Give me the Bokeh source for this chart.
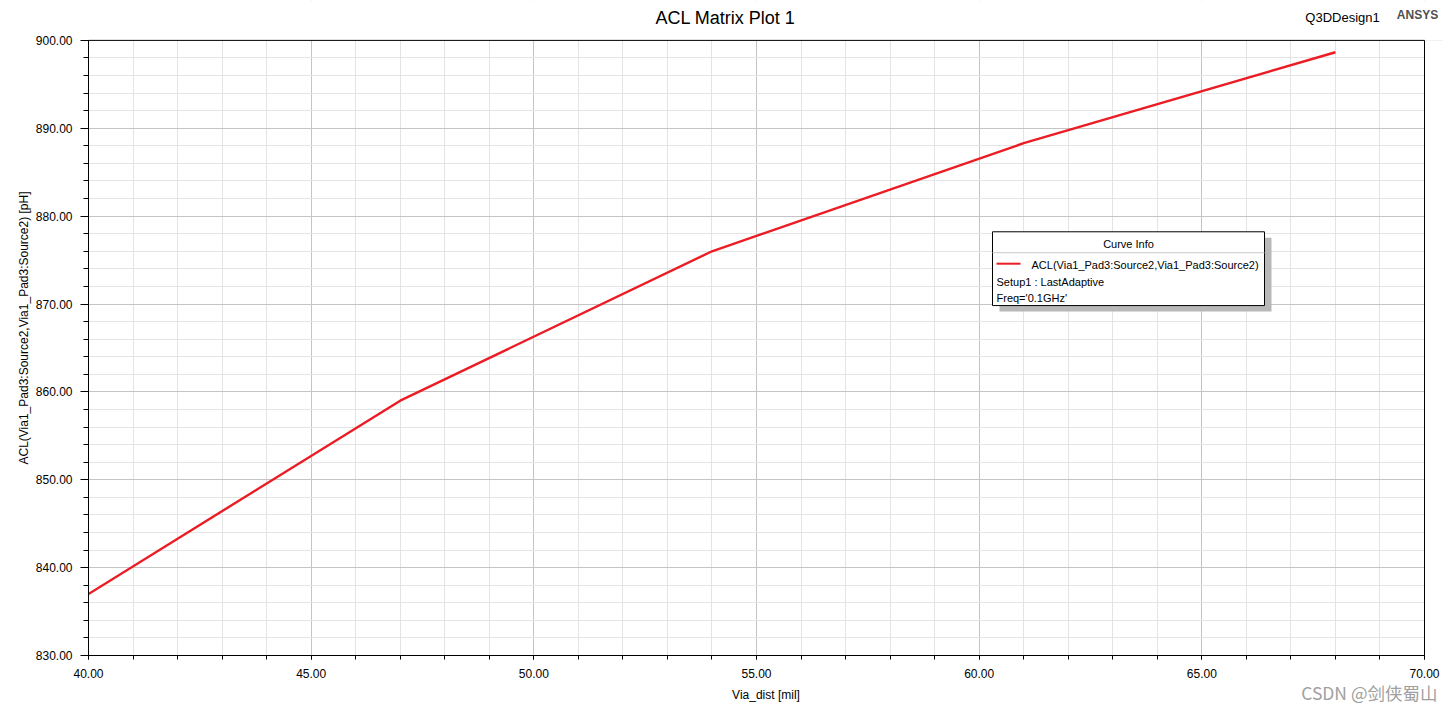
from bokeh.plotting import figure
from bokeh.models import (Range1d, SingleIntervalTicker, NumeralTickFormatter, Label, Title,
                          ColumnDataSource)
from bokeh.embed import file_html
from bokeh.resources import INLINE

# ---- data ----
via_dist = [40, 47, 54, 61, 68]
acl_ph = [837.0, 859.0, 876.0, 888.3, 898.65]

title_text = "ACL Matrix Plot 1"
x_label = "Via_dist [mil]"
y_label = "ACL(Via1_Pad3:Source2,Via1_Pad3:Source2) [pH]"
series_name = "ACL(Via1_Pad3:Source2,Via1_Pad3:Source2)"
legend_lines = ["Setup1 : LastAdaptive", "Freq='0.1GHz'"]
design_name = "Q3DDesign1"
brand = "ANSYS"
watermark = "CSDN @剑侠蜀山"

FONT = "Liberation Sans"
RED = "#ec1c24"

W, H = 1443, 704
X0, X1, Y0, Y1 = 40, 70, 830, 900
# plot box in canvas pixels
BX0, BX1, BY0, BY1 = 88, 1424, 40, 657

# frame extends to the top and right canvas edges so the header texts are drawable
x_end = X0 + (W - BX0) / (BX1 - BX0) * (X1 - X0)
y_end = Y1 + BY0 / (BY1 - BY0) * (Y1 - Y0)

def dx(px):
    return X0 + (px - BX0) / (BX1 - BX0) * (X1 - X0)
def dy(py):
    return Y1 - (py - BY0) / (BY1 - BY0) * (Y1 - Y0)

p = figure(width=W, height=H, output_backend="svg", toolbar_location=None,
           x_range=Range1d(X0, x_end), y_range=Range1d(Y0, y_end),
           min_border_left=BX0, min_border_right=0, min_border_top=0,
           min_border_bottom=H - BY1)
p.background_fill_color = "white"
p.border_fill_color = "white"
p.outline_line_color = None

p.xaxis.ticker = SingleIntervalTicker(interval=5, num_minor_ticks=5)
p.yaxis.ticker = SingleIntervalTicker(interval=10, num_minor_ticks=5)
p.xaxis.formatter = NumeralTickFormatter(format="0.00")
p.yaxis.formatter = NumeralTickFormatter(format="0.00")
p.xaxis.bounds = (X0, X1)
p.yaxis.bounds = (Y0, Y1)

for ax in (p.xaxis, p.yaxis):
    ax.axis_line_color = "black"
    ax.major_tick_line_color = "black"
    ax.minor_tick_line_color = "black"
    ax.major_tick_in = 0
    ax.minor_tick_in = 0
    ax.major_label_text_font = FONT
    ax.major_label_text_font_size = "12px"
    ax.major_label_text_color = "#000000"
    ax.axis_label_text_font = FONT
    ax.axis_label_text_font_size = "12px"
    ax.axis_label_text_font_style = "normal"
    ax.axis_label_text_color = "#000000"

p.xaxis.major_tick_out = 4
p.xaxis.minor_tick_out = 4
p.yaxis.major_tick_out = 8
p.yaxis.minor_tick_out = 5
p.xaxis.major_label_standoff = 9
p.yaxis.major_label_standoff = 8
p.xaxis.axis_label_standoff = 7
p.yaxis.axis_label_standoff = 2
p.xaxis.axis_label = x_label
p.yaxis.axis_label = y_label

for g in (p.xgrid, p.ygrid):
    g.grid_line_color = "#c4c4c4"
    g.grid_line_width = 1
    g.minor_grid_line_color = "#e4e4e4"
    g.minor_grid_line_width = 1

# white masks outside the plot box (above 900 and right of 70)
p.quad(left=[X0], right=[x_end], bottom=[Y1], top=[y_end], fill_color="white", line_color=None)
p.quad(left=[X1], right=[x_end], bottom=[Y0], top=[Y1], fill_color="white", line_color=None)
# plot box border
p.line(x=[X0, X1, X1, X0, X0], y=[Y0, Y0, Y1, Y1, Y0], line_color="black", line_width=1)

src = ColumnDataSource(dict(x=via_dist, y=acl_ph))
p.line("x", "y", source=src, line_color=RED, line_width=2.4)

# header texts
p.add_layout(Label(x=dx(725), y=dy(18), text=title_text, text_font=FONT, text_font_size="18px",
                   text_align="center", text_baseline="middle", text_color="#000000"))
p.add_layout(Label(x=dx(1342), y=dy(17), text=design_name, text_font=FONT, text_font_size="13px",
                   text_align="center", text_baseline="middle", text_color="#000000"))
p.add_layout(Label(x=dx(1417), y=dy(15), text=brand, text_font=FONT, text_font_size="12px",
                   text_font_style="bold", text_align="center", text_baseline="middle",
                   text_color="#505050"))

# watermark below the x axis
wm = Title(text=watermark, align="right", offset=6, vertical_align="top", standoff=-50,
           text_font="Noto Sans CJK SC", text_font_size="17.5px", text_font_style="normal",
           text_color="#a0a0a0")
p.add_layout(wm, "below")

# legend box ("Curve Info")
bx0, bx1, by0, by1 = 992, 1264, 232, 306
p.quad(left=[dx(bx0 + 7)], right=[dx(bx1 + 7)], top=[dy(by0 + 6)], bottom=[dy(by1 + 6)],
       fill_color="#b8b8b8", line_color=None)
p.quad(left=[dx(bx0)], right=[dx(bx1)], top=[dy(by0)], bottom=[dy(by1)],
       fill_color="white", line_color="black", line_width=1)
p.line(x=[dx(bx0), dx(bx1)], y=[dy(253), dy(253)], line_color="#c8c8c8", line_width=1)
p.line(x=[dx(996), dx(1020)], y=[dy(264), dy(264)], line_color=RED, line_width=2)
p.add_layout(Label(x=dx((bx0 + bx1) / 2), y=dy(244), text="Curve Info", text_font=FONT,
                   text_font_size="11px", text_align="center", text_baseline="middle",
                   text_color="#000000"))
p.add_layout(Label(x=dx(1031), y=dy(265), text=series_name, text_font=FONT,
                   text_font_size="11px", text_align="left", text_baseline="middle",
                   text_color="#000000"))
for i, t in enumerate(legend_lines):
    p.add_layout(Label(x=dx(996), y=dy(282 + 16 * i), text=t, text_font=FONT,
                       text_font_size="11px", text_align="left", text_baseline="middle",
                       text_color="#000000"))

open("out.html", "w").write(file_html(p, INLINE))
